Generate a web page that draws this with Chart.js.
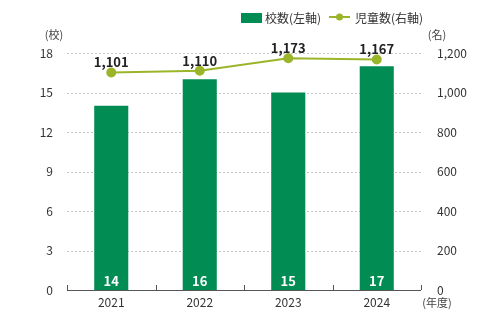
<!DOCTYPE html>
<html>
<head>
<meta charset="utf-8">
<script src="https://cdn.jsdelivr.net/npm/chart.js@4"></script>
<style>
  html, body { margin: 0; padding: 0; background: #fff; }
  #wrap { width: 500px; height: 326px; }
</style>
</head>
<body>
<div id="wrap"><canvas id="schoolChart"></canvas></div>
<script>
// data
const years = ['2021', '2022', '2023', '2024'];
const schools = [14, 16, 15, 17];
const children = [1101, 1110, 1173, 1167];
const leftTicks = [0, 3, 6, 9, 12, 15, 18];
const rightTicks = [0, 200, 400, 600, 800, 1000, 1200];

const barColor = '#008c52';
const lineColor = '#9bb52a';
const font = '"Noto Sans CJK JP", "Noto Sans", sans-serif';

// dashed grid lines behind the bars
const dashedGrid = {
    id: 'dashedGrid',
    beforeDatasetsDraw(chart) {
        const ctx = chart.ctx;
        const area = chart.chartArea;
        const y = chart.scales.y;
        ctx.save();
        ctx.strokeStyle = '#c4c4c4';
        ctx.lineWidth = 1;
        ctx.setLineDash([2, 2]);
        leftTicks.forEach(v => {
            if (v === 0) return;
            const py = Math.round(y.getPixelForValue(v)) + 0.5;
            ctx.beginPath();
            ctx.moveTo(area.left, py);
            ctx.lineTo(area.right, py);
            ctx.stroke();
        });
        ctx.restore();
    }
};

// draws legend, unit labels, value labels and the small x ticks
const extras = {
    id: 'extras',
    afterDatasetsDraw(chart) {
        const ctx = chart.ctx;
        const area = chart.chartArea;

        ctx.save();

        // axis line + upward ticks
        ctx.strokeStyle = '#555';
        ctx.lineWidth = 1;
        ctx.beginPath();
        ctx.moveTo(area.left, area.bottom + 0.5);
        ctx.lineTo(area.right, area.bottom + 0.5);
        for (let i = 0; i <= years.length; i++) {
            const px = Math.round(area.left + (area.right - area.left) * i / years.length) + 0.5;
            ctx.moveTo(px, area.bottom);
            ctx.lineTo(px, area.bottom - 5);
        }
        ctx.stroke();

        // bar values
        ctx.fillStyle = '#fff';
        ctx.font = 'bold 13px ' + font;
        ctx.textAlign = 'center';
        ctx.textBaseline = 'middle';
        chart.getDatasetMeta(1).data.forEach((bar, i) => {
            ctx.fillText(schools[i], bar.x, area.bottom - 9);
        });

        // line values
        ctx.fillStyle = '#222';
        ctx.font = 'bold 13px ' + font;
        chart.getDatasetMeta(0).data.forEach((pt, i) => {
            ctx.fillText(children[i].toLocaleString('en-US'), pt.x, pt.y - 10);
        });

        // units
        ctx.fillStyle = '#444';
        ctx.font = '11px ' + font;
        ctx.textAlign = 'center';
        ctx.fillText('(校)', 54, 35);
        ctx.fillText('(名)', 437, 35);
        ctx.fillText('(年度)', 437, 303);

        // legend
        ctx.fillStyle = barColor;
        ctx.fillRect(241, 13, 21, 10);
        ctx.fillStyle = '#333';
        ctx.font = '12px ' + font;
        ctx.textAlign = 'left';
        ctx.fillText('校数(左軸)', 265, 18);
        ctx.strokeStyle = lineColor;
        ctx.lineWidth = 2;
        ctx.beginPath();
        ctx.moveTo(329, 17);
        ctx.lineTo(350, 17);
        ctx.stroke();
        ctx.fillStyle = lineColor;
        ctx.beginPath();
        ctx.arc(339.5, 17, 3.5, 0, Math.PI * 2);
        ctx.fill();
        ctx.fillStyle = '#333';
        ctx.fillText('児童数(右軸)', 355, 18);

        ctx.restore();
    }
};

new Chart(document.getElementById('schoolChart'), {
    data: {
        labels: years,
        datasets: [{
            type: 'line',
            label: '児童数(右軸)',
            data: children,
            yAxisID: 'y1',
            borderColor: lineColor,
            backgroundColor: lineColor,
            borderWidth: 2,
            pointRadius: 4,
            pointHoverRadius: 4,
            order: 0
        }, {
            type: 'bar',
            label: '校数(左軸)',
            data: schools,
            yAxisID: 'y',
            backgroundColor: barColor,
            categoryPercentage: 1,
            barPercentage: 0.385,
            order: 1
        }]
    },
    options: {
        responsive: true,
        maintainAspectRatio: false,
        animation: false,
        layout: { padding: { top: 53, left: 0, right: 0, bottom: 0 } },
        plugins: {
            legend: { display: false },
            tooltip: { enabled: false }
        },
        scales: {
            x: {
                border: { display: false },
                grid: { display: false, drawTicks: false },
                ticks: {
                    color: '#333',
                    font: { family: font, size: 12 },
                    padding: 5
                },
                afterFit(scale) { scale.height = 36; }
            },
            y: {
                position: 'left',
                min: 0,
                max: 18,
                afterBuildTicks(scale) { scale.ticks = leftTicks.map(v => ({ value: v })); },
                border: { display: false },
                grid: { display: false },
                ticks: {
                    color: '#333',
                    font: { family: font, size: 12 },
                    padding: 6
                },
                afterFit(scale) { scale.width = 67; }
            },
            y1: {
                position: 'right',
                min: 0,
                max: 1200,
                afterBuildTicks(scale) { scale.ticks = rightTicks.map(v => ({ value: v })); },
                border: { display: false },
                grid: { display: false },
                ticks: {
                    color: '#333',
                    font: { family: font, size: 12 },
                    padding: 8,
                    callback: v => v.toLocaleString('en-US')
                },
                afterFit(scale) { scale.width = 79; }
            }
        }
    },
    plugins: [dashedGrid, extras]
});
</script>
</body>
</html>
